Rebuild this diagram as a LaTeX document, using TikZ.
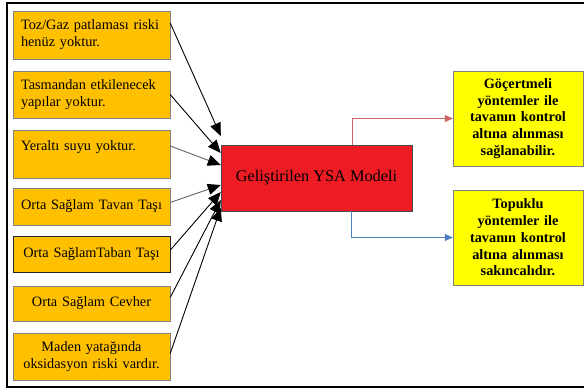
\documentclass[tikz,border=0pt]{standalone}
\usepackage{fontspec}
\setmainfont{Liberation Serif}
\usetikzlibrary{arrows.meta}
\definecolor{kosul}{RGB}{255,192,0}
\definecolor{modelred}{RGB}{237,28,36}
\definecolor{sonuc}{RGB}{255,255,0}
\definecolor{redline}{RGB}{205,100,100}
\definecolor{blueline}{RGB}{79,129,189}
\tikzset{
	-big/.style={line width=0.9pt,-{Triangle[length=13pt,width=11pt,color=black]}},
	-thin/.style={line width=0.7pt,-{Triangle[length=8pt,width=7pt]}},
	cond/.style={draw=gray,fill=kosul,text width=141pt,inner xsep=8pt,inner ysep=0pt,align=left,font=\fontsize{14.3}{17}\selectfont},
	condc/.style={cond,align=center},
	model/.style={draw=black!70,fill=modelred,minimum width=191pt,minimum height=66pt,font=\fontsize{16.3}{19}\selectfont},
	result/.style={draw=gray,fill=sonuc,minimum width=130pt,minimum height=95pt,text width=114pt,align=center,inner ysep=0pt,font=\bfseries\fontsize{14.3}{16.8}\selectfont}
}

\begin{document}
\begin{tikzpicture}[x=1pt,y=-1pt]
	\useasboundingbox (0,0) rectangle (584,389);
	\draw[line width=2pt] (592,3) -| (7,387) -- (592,387);
	% girdiler
	\node[cond,minimum height=48pt] (toz) at (91.5,35) {Toz/Gaz patlaması riski\\henüz yoktur.};
	\node[cond,minimum height=47pt] (tas) at (91.5,94.5) {Tasmandan etkilenecek\\yapılar yoktur.};
	\node[cond,minimum height=48pt,text depth=16pt] (yer) at (91.5,154) {Yeraltı suyu yoktur.};
	\node[condc,minimum height=37pt] (tavan) at (91.5,206.5) {Orta Sağlam Tavan Taşı};
	\node[condc,draw=black!85,thick,minimum height=36pt] (taban) at (91.5,254) {Orta SağlamTaban Taşı};
	\node[condc,minimum height=35pt] (cevher) at (91.5,303.5) {Orta Sağlam Cevher};
	\node[condc,minimum height=47pt] (maden) at (91.5,356.5) {Maden yatağında\\oksidasyon riski vardır.};
	% model ve sonuclar
	\node[model] (ysa) at (316.5,178) {Geliştirilen YSA Modeli};
	\node[result] (gocer) at (518,118.5) {Göçertmeli\\yöntemler ile\\tavanın kontrol\\altına alınması\\sağlanabilir.};
	\node[result] (topuk) at (518,237.5) {Topuklu\\yöntemler ile\\tavanın kontrol\\altına alınması\\sakıncalıdır.};
	% baglantilar
	\draw[-big] ([yshift=12pt]toz.east) -- ([yshift=42pt]ysa.west);
	\draw[-big] (tas.east) -- ([yshift=25pt]ysa.west);
	\draw[-big,black!60] ([yshift=8pt]yer.east) -- ([yshift=13pt]ysa.west);
	\draw[-big,black!60] ([yshift=4pt]tavan.east) -- ([yshift=-7pt]ysa.west);
	\draw[-big] ([yshift=4pt]taban.east) -- ([yshift=-14pt]ysa.west);
	\draw[-big] ([yshift=6pt]cevher.east) -- ([yshift=-22pt]ysa.west);
	\draw[-big] ([yshift=3pt]maden.east) -- ([yshift=-30pt]ysa.west);
	\draw[-thin,redline] ([xshift=36pt]ysa.north) |- (gocer.west);
	\draw[-thin,blueline] ([xshift=35pt]ysa.south) |- (topuk.west);
\end{tikzpicture}
\end{document}
